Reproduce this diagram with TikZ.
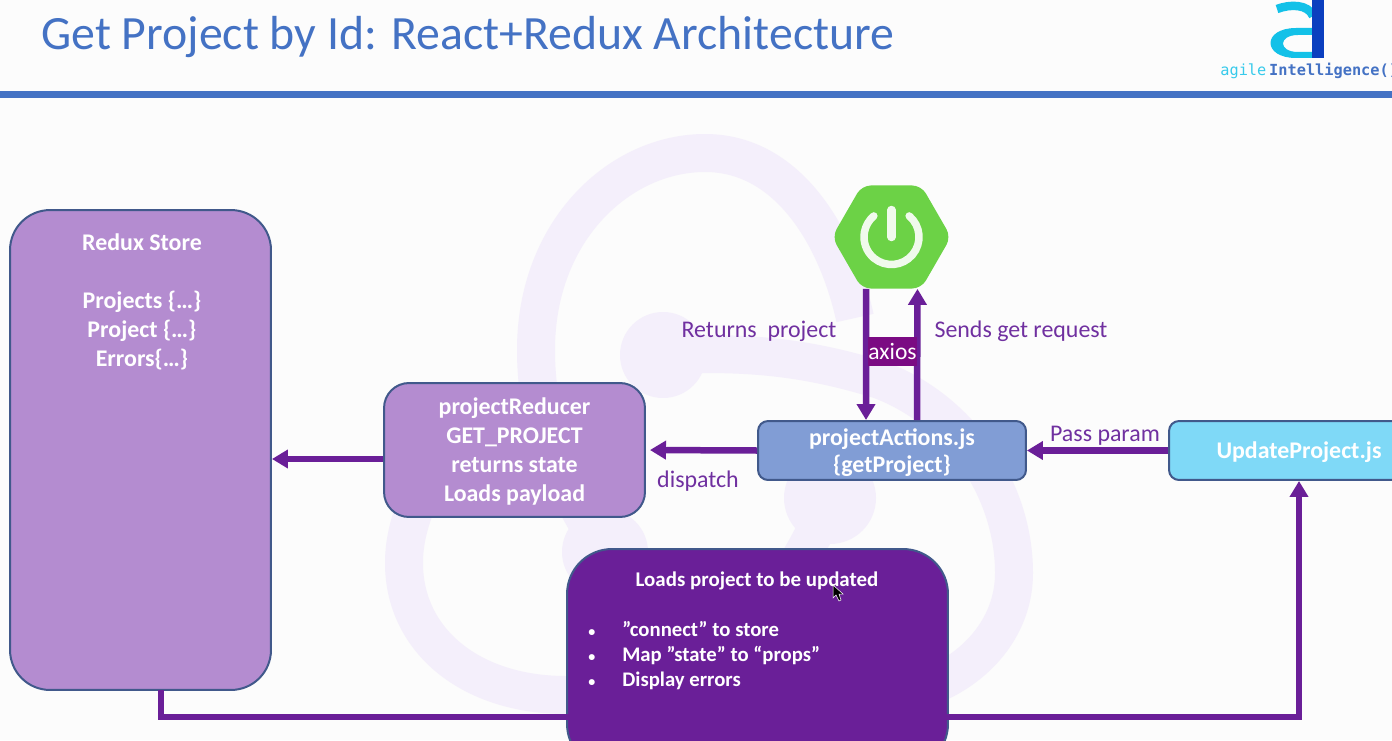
\documentclass[tikz,border=0pt]{standalone}
\usepackage{fontspec}
\setmainfont{Carlito}
\newfontfamily\logomono{DejaVu Sans Mono}
\usetikzlibrary{arrows.meta,shapes.geometric}
\definecolor{slideblue}{HTML}{4472C4}
\definecolor{flowpurple}{HTML}{6A1F98}
\definecolor{labelpurple}{HTML}{7030A0}
\definecolor{storelilac}{HTML}{B48CD0}
\definecolor{actionblue}{HTML}{819DD5}
\definecolor{updatecyan}{HTML}{7FD9F7}
\definecolor{edgeblue}{HTML}{41598B}
\definecolor{ghost}{HTML}{F4EFFB}
\definecolor{springgreen}{HTML}{6CD246}
\definecolor{axiosplum}{HTML}{7B0B83}
\definecolor{logocyan}{HTML}{13C1E8}
\definecolor{logoblue}{HTML}{0B3FBF}
\newcommand{\dotitem}{\makebox[0.68cm][l]{\fontsize{8}{10}\selectfont\textbullet}}
\tikzset{
	box/.style={draw=edgeblue, line width=0.04cm, text=white, align=center, text depth=0pt, font=\fontsize{13.6}{16.5}\bfseries\selectfont},
	flow/.style={line width=0.13cm, color=flowpurple, -{Triangle[length=0.32cm,width=0.36cm]}},
	lbl/.style={text=labelpurple, font=\fontsize{13.6}{16}\selectfont},
	redux/.style={line width=0.76cm, color=ghost}
}
\begin{document}
\begin{tikzpicture}[x=0.02cm, y=-0.02cm]
			%%%%% START %%%%%
			
			\useasboundingbox (0, 0) rectangle (1392, 740);
			\clip (0, 0) rectangle (1392, 740);
			\fill[color=white!99!black] (0, 0) rectangle (1392, 740);
			
			% header
			\node[anchor=west, inner sep=0, text=slideblue, font=\fontsize{27.2}{30}\selectfont] (title) at (41, 37) {Get Project by Id: React+Redux Architecture};
			\fill[color=slideblue] (0, 91) rectangle (1392, 98);
			\draw[line width=0.17cm, color=logocyan] (1277, 9) .. controls (1290, 4) and (1308, 4) .. (1313, 16);
			\fill[color=logocyan, even odd rule] (1314, 28) -- (1296, 28) .. controls (1262, 28) and (1262, 58) .. (1296, 58) -- (1314, 58) -- cycle (1314, 35) -- (1298, 35) .. controls (1278, 35) and (1278, 52) .. (1298, 52) -- (1314, 52) -- cycle;
			\fill[color=logoblue] (1312, 0) rectangle (1324, 58);
			\node[anchor=west, inner sep=0, font=\fontsize{8.7}{10}\logomono\selectfont] (brand) at (1220, 71) {\textcolor{logocyan!85}{agile}\hspace{1.6pt}\textcolor{slideblue}{\bfseries Intelligence()}};
			
			% faint logo behind the boxes
			\draw[redux] (605, 552) .. controls (565, 490) and (536, 430) .. (536, 350) .. controls (536, 230) and (620, 153) .. (705, 153) .. controls (790, 153) and (838, 240) .. (855, 318);
			\draw[redux] (663, 355) .. controls (740, 352) and (800, 355) .. (880, 380) .. controls (960, 410) and (1014, 490) .. (1014, 573) .. controls (1014, 620) and (985, 660) .. (940, 682);
			\draw[redux] (830, 498) .. controls (780, 620) and (700, 695) .. (566, 695) .. controls (470, 695) and (404, 640) .. (404, 563) .. controls (404, 540) and (410, 520) .. (418, 500);
			\fill[color=ghost] (663, 355) circle (0.86cm);
			\fill[color=ghost] (605, 552) circle (0.86cm);
			\fill[color=ghost] (830, 498) circle (0.92cm);
			
			% boxes
			\node[box, fill=storelilac, rounded corners=0.8cm, minimum width=5.22cm, minimum height=9.6cm] (store) at (140.5, 450) {};
			\node[text=white, align=center, font=\fontsize{13.6}{16.5}\bfseries\selectfont] (storetext) at (142, 302) {Redux Store\\[16.5pt]Projects \{\dots\}\\Project \{\dots\}\\Errors\{\dots\}};
			\node[box, fill=storelilac, rounded corners=0.5cm, minimum width=5.22cm, minimum height=2.68cm] (reducer) at (514.5, 450) {projectReducer\\GET\_PROJECT\\returns state\\Loads payload};
			\node[box, fill=actionblue, rounded corners=0.2cm, minimum width=5.36cm, minimum height=1.18cm] (actions) at (892, 450.5) {projectActions.js\\[-1.2pt]\{getProject\}};
			\node[box, fill=updatecyan, rounded corners=0.2cm, minimum width=5.2cm, minimum height=1.18cm] (update) at (1299, 450.5) {UpdateProject.js};
			\node[box, fill=flowpurple, rounded corners=0.9cm, minimum width=7.62cm, minimum height=4.4cm] (loader) at (757.5, 659) {};
			\node[text=white, font=\fontsize{11.9}{14}\bfseries\selectfont] (loadertitle) at (757, 581) {Loads project to be updated};
			\node[anchor=north west, inner sep=0, text=white, align=left, font=\fontsize{11.8}{14.2}\bfseries\selectfont] (loaderlist) at (588, 621) {\dotitem”connect” to store\\\dotitem Map ”state” to “props”\\\dotitem Display errors};
			\fill[color=black, draw=white, line width=0.01cm] (833, 585) -- (833, 598) -- (836, 595) -- (839, 601) -- (841, 600) -- (839, 594) -- (843, 594) -- cycle;
			
			% spring logo
			\node[regular polygon, regular polygon sides=6, fill=springgreen, rounded corners=0.18cm, minimum size=2.38cm, inner sep=0] (spring) at (891.5, 237) {};
			\draw[line width=0.15cm, color=white!90!springgreen, line cap=round] (spring.center) ++(50:0.55cm) arc (50:-230:0.55cm);
			\draw[line width=0.17cm, color=white!90!springgreen, line cap=round] (spring.center) ++(0, -27) -- (spring.center);
			
			% connectors
			\draw[flow] ([xshift=-0.51cm]spring.south) -- ([xshift=-0.52cm]actions.north);
			\draw[flow] ([xshift=0.5cm]actions.north) -- ([xshift=0.52cm]spring.south);
			\draw[flow, shorten >=0.08cm] (actions.west) -- (reducer.east);
			\draw[flow] (update.west) -- (actions.east);
			\draw[flow] ([yshift=-0.18cm]reducer.west) -- ([yshift=-0.18cm]store.east);
			\coordinate (storeout) at (161, 690);
			\draw[flow] (storeout) -- ++(0, 27) -| (update.south);
			
			\node[fill=axiosplum, text=white, inner sep=0, minimum width=0.98cm, minimum height=0.58cm, font=\fontsize{13.4}{15}\selectfont] (axios) at (892.5, 351) {axios};
			
			% labels
			\node[lbl] (returns) at (759, 331) {Returns\ \ project};
			\node[lbl] (sends) at (1021, 331) {Sends get request};
			\node[lbl] (dispatch) at (698, 481) {dispatch};
			\node[lbl] (pass) at (1105, 436) {Pass param};
			
			%%%%% END %%%%%
		\end{tikzpicture}
\end{document}
